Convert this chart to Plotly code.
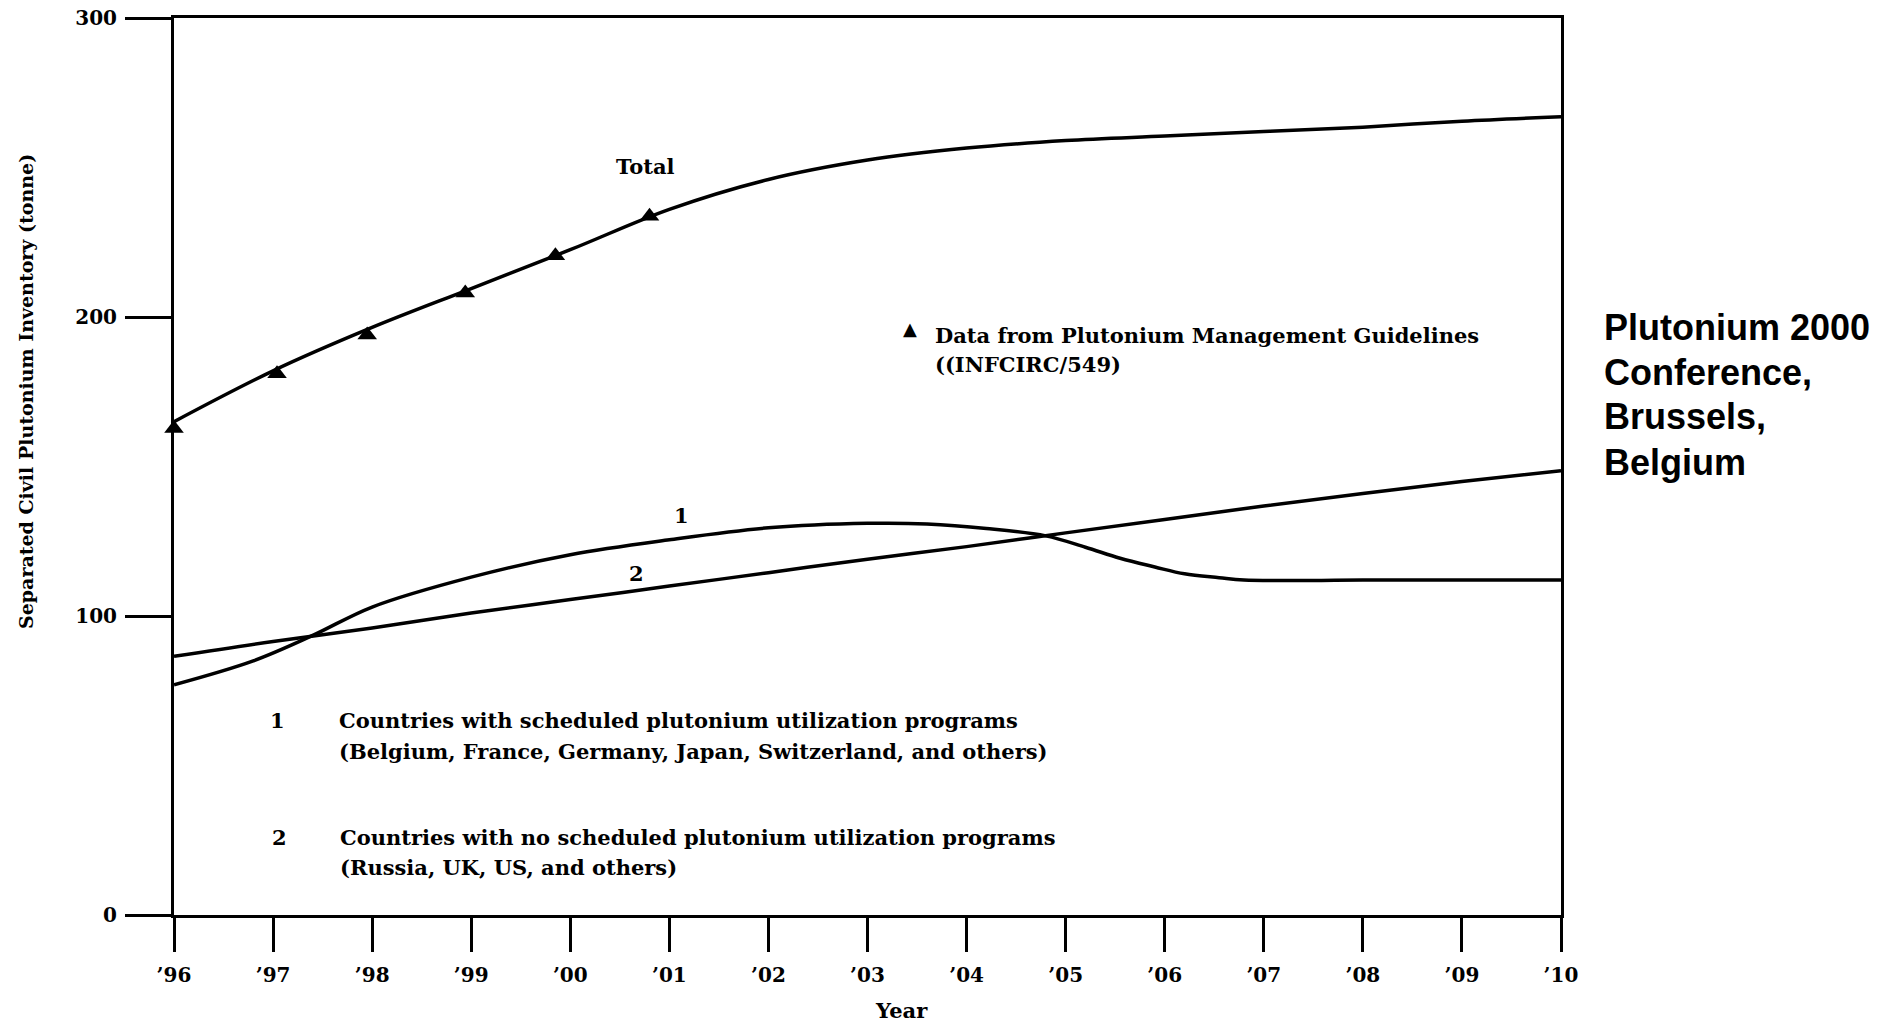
import plotly.graph_objects as go

W, H = 1883, 1022

# Year axis
years = [1996, 1997, 1998, 1999, 2000, 2001, 2002, 2003, 2004, 2005, 2006, 2007, 2008, 2009, 2010]
year_labels = ["’96", "’97", "’98", "’99", "’00", "’01", "’02", "’03", "’04", "’05",
               "’06", "’07", "’08", "’09", "’10"]
inventory_ticks = [0, 100, 200, 300]

# Total separated civil plutonium inventory (tonne)
total_values = [165, 182, 196.5, 209.5, 222.5, 236, 246, 252.5, 256.5, 259, 260.5, 262, 263.5, 265.5, 267]

# Group 1: countries with scheduled plutonium utilization programs
group1_years = [1996, 1996.8, 1997.4, 1998, 1999, 2000, 2001, 2002, 2003, 2003.6, 2004.2, 2004.8,
                2005.2, 2005.55, 2005.9, 2006.2, 2006.55, 2006.8, 2008, 2009, 2010]
group1_values = [77, 85, 93.5, 103, 113, 120.5, 125.5, 129.5, 131, 130.8, 129.3, 126.8,
                 123, 119.3, 116.4, 114.1, 112.8, 112, 112, 112, 112]

# Group 2: countries with no scheduled plutonium utilization programs
group2_values = [86.5, 91.5, 96, 101, 105.5, 110, 114.5, 119, 123.2, 127.8, 132.3, 136.8, 141, 145, 148.6]

# Reported inventories (INFCIRC/549)
infcirc_years = [1996.0, 1997.04, 1997.95, 1998.94, 1999.85, 2000.8]
infcirc_values = [162.7, 181, 194, 208, 220.5, 233.7]

SERIF = "DejaVu Serif"
SANS = "Liberation Sans"
INK = "black"


def px_x(x):
    return x / W


def px_y(y):
    return 1 - y / H


fig = go.Figure()

line_style = dict(color=INK, width=3.5, shape="spline", smoothing=1.0)

fig.add_trace(go.Scatter(x=years, y=total_values, mode="lines", line=line_style,
                         name="Total", showlegend=False, hoverinfo="skip"))
fig.add_trace(go.Scatter(x=group1_years, y=group1_values, mode="lines", line=line_style,
                         name="1", showlegend=False, hoverinfo="skip"))
fig.add_trace(go.Scatter(x=years, y=group2_values, mode="lines", line=line_style,
                         name="2", showlegend=False, hoverinfo="skip"))
fig.add_trace(go.Scatter(x=infcirc_years, y=infcirc_values, mode="markers",
                         marker=dict(symbol="triangle-up", size=17, color=INK),
                         cliponaxis=False, name="INFCIRC/549", showlegend=False,
                         hoverinfo="skip"))

text_font = dict(family=SERIF, size=21, color=INK, weight="bold")
annotations = []


def note(text, x, y, xanchor="left", font=None, **kw):
    annotations.append(dict(text=text, x=px_x(x), y=px_y(y), xref="paper", yref="paper",
                            xanchor=xanchor, yanchor="middle", showarrow=False,
                            font=font or text_font, **kw))


# Curve labels
note("Total", 645, 166, xanchor="center")
note("1", 681, 515, xanchor="center")
note("2", 636, 573, xanchor="center")

# Source key
note("▲", 910, 329, xanchor="center", font=dict(family="DejaVu Sans", size=18, color=INK))
note("Data from Plutonium Management Guidelines", 933, 335)
note("((INFCIRC/549)", 933, 364)

# Group key
note("1", 277, 720, xanchor="center")
note("Countries with scheduled plutonium utilization programs", 337, 720)
note("(Belgium, France, Germany, Japan, Switzerland, and others)", 337, 751)
note("2", 279, 837, xanchor="center")
note("Countries with no scheduled plutonium utilization programs", 338, 837)
note("(Russia, UK, US, and others)", 338, 867)

# Axis titles
note("Year", 901, 1010, xanchor="center", font=dict(family=SERIF, size=21, color=INK, weight="bold"))
note("Separated Civil Plutonium Inventory (tonne)", 26, 392, xanchor="center",
     font=dict(family=SERIF, size=19, color=INK, weight="bold"), textangle=-90)

# Conference caption
side_font = dict(family=SANS, size=36, color=INK, weight="bold")
for text, y in [("Plutonium 2000", 327), ("Conference,", 372), ("Brussels,", 417), ("Belgium", 462)]:
    note(text, 1602, y, font=side_font)

fig.update_layout(
    width=W, height=H, autosize=False,
    margin=dict(l=0, r=0, t=0, b=0, pad=0),
    paper_bgcolor="white", plot_bgcolor="white",
    showlegend=False,
    annotations=annotations,
    xaxis=dict(
        domain=[px_x(174), px_x(1561)],
        range=[1996, 2010],
        automargin=False,
        tickmode="array", tickvals=years, ticktext=year_labels,
        ticks="outside", ticklen=34, tickwidth=3, tickcolor=INK,
        ticklabelstandoff=6,
        tickfont=dict(family=SERIF, size=20, color=INK, weight="bold"),
        showline=True, linecolor=INK, linewidth=3, mirror=True,
        showgrid=False, zeroline=False,
    ),
    yaxis=dict(
        domain=[px_y(915), px_y(18)],
        range=[0, 300],
        automargin=False,
        tickmode="array", tickvals=inventory_ticks,
        ticks="outside", ticklen=46, tickwidth=3, tickcolor=INK,
        ticklabelstandoff=4,
        tickfont=dict(family=SERIF, size=20, color=INK, weight="bold"),
        showline=True, linecolor=INK, linewidth=3, mirror=True,
        showgrid=False, zeroline=False,
    ),
)

fig.write_html("out.html")
